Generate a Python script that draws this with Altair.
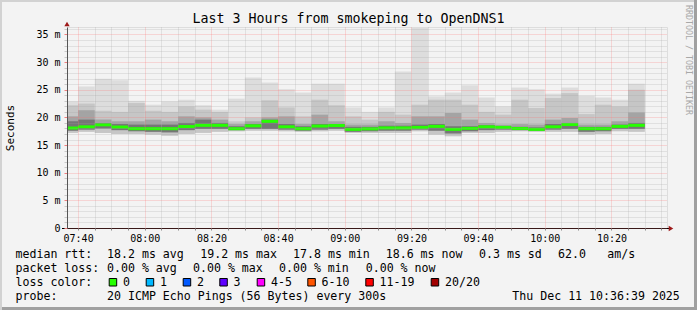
import altair as alt
import pandas as pd

# ---------------- data ----------------
times = ["07:35", "07:40", "07:45", "07:50", "07:55", "08:00", "08:05", "08:10", "08:15",
         "08:20", "08:25", "08:30", "08:35", "08:40", "08:45", "08:50", "08:55", "09:00",
         "09:05", "09:10", "09:15", "09:20", "09:25", "09:30", "09:35", "09:40", "09:45",
         "09:50", "09:55", "10:00", "10:05", "10:10", "10:15", "10:20", "10:25"]
# ping rtt distribution per 5-minute step, in ms
mx = [22.9, 25.6, 27.0, 26.7, 23.0, 22.3, 22.9, 23.2, 22.2, 21.4, 23.4, 27.2, 26.3, 25.1,
      24.5, 26.1, 26.1, 21.8, 21.0, 21.8, 28.3, 36.2, 23.8, 24.5, 25.8, 23.6, 22.0, 25.4,
      25.1, 24.3, 25.4, 23.9, 23.6, 23.2, 26.1]
q90 = [22.2, 22.5, 21.2, 21.0, 22.6, 21.2, 21.0, 22.0, 21.4, 21.0, 19.3, 20.0, 23.1, 21.8,
       20.2, 23.2, 22.2, 20.2, 19.6, 21.0, 20.5, 22.3, 23.2, 23.2, 22.3, 21.0, 20.5, 23.2,
       21.7, 23.5, 24.4, 20.6, 22.3, 22.0, 25.0]
q75 = [20.2, 21.3, 19.6, 19.3, 19.3, 19.6, 19.3, 20.2, 20.0, 19.6, 18.8, 19.3, 20.0, 20.2,
       18.8, 20.5, 19.3, 18.7, 18.7, 19.3, 19.0, 20.2, 20.2, 20.8, 19.6, 19.0, 18.7, 18.8,
       18.7, 19.6, 19.9, 18.7, 18.7, 19.3, 20.9]
q60 = [19.3, 19.6, 19.0, 18.8, 18.7, 18.7, 18.7, 19.0, 19.6, 19.0, 18.4, 18.8, 19.6, 18.8,
       18.4, 18.8, 18.8, 18.3, 18.3, 18.5, 18.5, 18.7, 18.8, 18.4, 18.4, 18.6, 18.4, 18.3,
       18.2, 18.8, 19.0, 18.3, 18.3, 18.7, 19.0]
med = [18.08, 18.3, 18.66, 18.26, 17.96, 17.96, 17.96, 18.35, 18.57, 18.57, 17.96, 18.48,
       19.29, 18.3, 17.96, 18.44, 18.53, 17.84, 17.93, 18.1, 18.1, 18.2, 18.38, 17.84, 18.02,
       18.3, 18.2, 17.99, 17.84, 18.3, 18.71, 17.96, 17.96, 18.38, 18.57]
q25 = [17.6, 17.8, 18.0, 17.7, 17.5, 17.4, 17.3, 17.7, 17.9, 17.9, 17.7, 17.9, 17.9, 17.8,
       17.6, 17.8, 17.9, 17.4, 17.5, 17.6, 17.6, 17.8, 17.6, 17.1, 17.5, 17.7, 17.8, 17.7,
       17.6, 17.8, 17.9, 17.4, 17.5, 17.9, 17.9]
mn = [17.2, 17.4, 17.2, 17.0, 17.0, 16.9, 16.7, 17.0, 17.2, 17.4, 17.5, 17.6, 17.6, 17.5,
      17.4, 17.5, 17.6, 17.2, 17.2, 17.2, 17.2, 17.5, 16.9, 16.6, 17.2, 17.2, 17.4, 17.5,
      17.4, 17.4, 17.4, 16.9, 17.0, 17.5, 17.4]

title_text = "Last 3 Hours from smokeping to OpenDNS1"
rtt_stats = ["18.2 ms avg", "19.2 ms max", "17.8 ms min", "18.6 ms now", "0.3 ms sd", "62.0", "am/s"]
loss_stats = ["0.00 % avg", "0.00 % max", "0.00 % min", "0.00 % now"]
loss_labels = ["0", "1", "2", "3", "4-5", "6-10", "11-19", "20/20"]
loss_colors = ["#26ff00", "#00b8ff", "#0059ff", "#5e00ff", "#ff00fe", "#ff5500", "#ff0000", "#a10000"]
probe_text = "20 ICMP Echo Pings (56 Bytes) every 300s"
stamp_text = "Thu Dec 11 10:36:39 2025"

# ---------------- layout ----------------
PL, PT = 67, 27          # plot origin in the page
W, H = 600, 201
FONT = "DejaVu Sans Mono"


def to_min(t):
    h, m = t.split(":")
    return (int(h) - 7) * 60 + int(m)


starts = [to_min(t) for t in times]
df = pd.DataFrame({"t0": starts, "t1": [s + 5 for s in starts], "mx": mx, "q90": q90,
                   "q75": q75, "q60": q60, "med": med, "q25": q25, "mn": mn})

xdom = [36.67, 216.67]
ydom = [0, 36.35]

x_expr = ("datum.value % 20 === 0 ? "
          "((floor(datum.value/60)+7) < 10 ? '0' : '') + (floor(datum.value/60)+7) + ':' + "
          "((datum.value % 60) < 10 ? '0' : '') + (datum.value % 60) : ''")
y_expr = ("datum.value % 5 === 0 ? (datum.value === 0 ? '0\u00a0\u00a0' : datum.value + ' m') : ''")

x_axis = alt.Axis(values=list(range(40, 216, 5)), labelExpr=x_expr, title=None,
                  grid=True, gridDash=[1, 1], gridOpacity=0.45,
                  gridColor={"condition": {"test": "datum.value % 20 === 0", "value": "#ff6a6a"},
                             "value": "#a0a0a0"},
                  domain=False, ticks=True, tickSize=2, tickColor="#888888",
                  labelFont=FONT, labelFontSize=10, labelColor="#000000", labelPadding=3,
                  labelFlush=False, labelOverlap=False, zindex=1)
y_axis = alt.Axis(values=list(range(0, 37)), labelExpr=y_expr, title="Seconds",
                  titleFont=FONT, titleFontSize=11, titleFontWeight="normal",
                  titleColor="#000000", titleX=-57, titleY=H / 2, titleAngle=-90,
                  titleAlign="center", titleBaseline="middle",
                  grid=True, gridDash=[1, 1], gridOpacity=0.45,
                  gridColor={"condition": {"test": "datum.value % 5 === 0", "value": "#ff6a6a"},
                             "value": "#a0a0a0"},
                  domain=True, domainColor="#555555", ticks=True, tickSize=3,
                  tickColor={"condition": {"test": "datum.value % 5 === 0", "value": "#f08080"},
                             "value": "#c8c8c8"},
                  labelFont=FONT, labelFontSize=10, labelColor="#000000", labelPadding=4,
                  labelOverlap=False, labelFlush=False, zindex=1)

base = alt.Chart(df)
xscale = alt.Scale(domain=xdom, nice=False, zero=False)
Yscale = alt.Scale(domain=ydom, nice=False, zero=True)
XE = alt.X("t0:Q", scale=xscale, axis=x_axis)


def band(lo, hi, color):
    return base.mark_bar(color=color, clip=True, strokeWidth=0).encode(
        x=XE, x2="t1:Q", y=alt.Y(f"{lo}:Q", scale=Yscale, axis=y_axis), y2=f"{hi}:Q")


layers = [
    band("mn", "mx", "#dddddd"),
    band("mn", "q90", "#c6c6c6"),
    band("q25", "q75", "#a4a4a4"),
    band("q25", "q60", "#767676"),
    base.mark_rule(color="#26ff00", strokeWidth=3, clip=True).encode(
        x=XE, x2="t1:Q", y=alt.Y("med:Q", scale=Yscale, axis=y_axis)),
]

one = pd.DataFrame({"d": [0]})


def text_at(txt, ax, ay, size=11.6, color="#000000", align="left", angle=0, baseline="alphabetic"):
    return alt.Chart(one).mark_text(text=txt, font=FONT, fontSize=size, color=color,
                                    align=align, baseline=baseline, angle=angle).encode(
        x=alt.value(ax - PL), y=alt.value(ay - PT))


# x axis line with arrow, y axis arrow
layers.append(alt.Chart(one).mark_rule(color="#000000", strokeWidth=1).encode(
    x=alt.value(-5), x2=alt.value(603), y=alt.value(H + 0.5)))
layers.append(alt.Chart(one).mark_point(shape="triangle-right", filled=True, size=28,
                                        color="#9e1a1a", opacity=1).encode(
    x=alt.value(604), y=alt.value(H + 0.5)))
layers.append(alt.Chart(one).mark_point(shape="triangle-up", filled=True, size=28,
                                        color="#9e1a1a", opacity=1).encode(
    x=alt.value(0), y=alt.value(-3)))

# title and side credit
layers.append(text_at(title_text, 348.5, 23.3, size=13.3, align="center"))
layers.append(text_at("RRDTOOL / TOBI OETIKER", 687.5, 60, size=8.3, color="#a8a8a8",
                      align="center", angle=90, baseline="middle"))

# legend rows
r1, r2, r3, r4 = 257.7, 271.7, 285.7, 299.7
layers.append(text_at("median rtt:", 15.5, r1))
for txt, ax in zip(rtt_stats, [107, 200.2, 293, 385.7, 479, 558, 607.3]):
    layers.append(text_at(txt, ax, r1))
layers.append(text_at("packet loss:", 15.5, r2))
for txt, ax in zip(loss_stats, [107, 193, 279, 365.7]):
    layers.append(text_at(txt, ax, r2))
layers.append(text_at("loss color:", 15.5, r3))
box_x = [108.7, 145.7, 182.7, 219.3, 256.7, 307.3, 365.3, 430.7]
for lab, col, bx in zip(loss_labels, loss_colors, box_x):
    layers.append(alt.Chart(one).mark_rect(fill=col, stroke="#000000", strokeWidth=1).encode(
        x=alt.value(bx - PL + 0.5), x2=alt.value(bx - PL + 8), y=alt.value(278.5 - PT),
        y2=alt.value(286 - PT)))
    layers.append(text_at(lab, bx + 14.3, r3))
layers.append(text_at("probe:", 15.5, r4))
layers.append(text_at(probe_text, 107, r4))
layers.append(text_at(stamp_text, 512.3, r4))

# page frame (3D border)
frame = [
    (-PL, 697 - PL, -PT + 1, "#d2d2d2", 2),
    (-PL, 697 - PL, 310 - PT - 1.5, "#a0a0a0", 3),
]
for x1, x2, yy, col, sw in frame:
    layers.append(alt.Chart(one).mark_rule(color=col, strokeWidth=sw).encode(
        x=alt.value(x1), x2=alt.value(x2), y=alt.value(yy)))
layers.append(alt.Chart(one).mark_rule(color="#d2d2d2", strokeWidth=2).encode(
    x=alt.value(-PL + 1), y=alt.value(-PT), y2=alt.value(310 - PT)))
layers.append(alt.Chart(one).mark_rule(color="#a0a0a0", strokeWidth=3).encode(
    x=alt.value(697 - PL - 1.5), y=alt.value(-PT), y2=alt.value(310 - PT)))

chart = alt.layer(*layers).properties(
    width=W, height=H,
    autosize=alt.AutoSizeParams(type="none"),
    padding={"left": PL, "top": PT, "right": 697 - PL - W, "bottom": 310 - PT - H},
    background="#f3f3f3",
).configure_view(stroke=None, fill="#ffffff").configure(font=FONT)

chart.save("out.html", embed_options={"renderer": "svg", "actions": False})
